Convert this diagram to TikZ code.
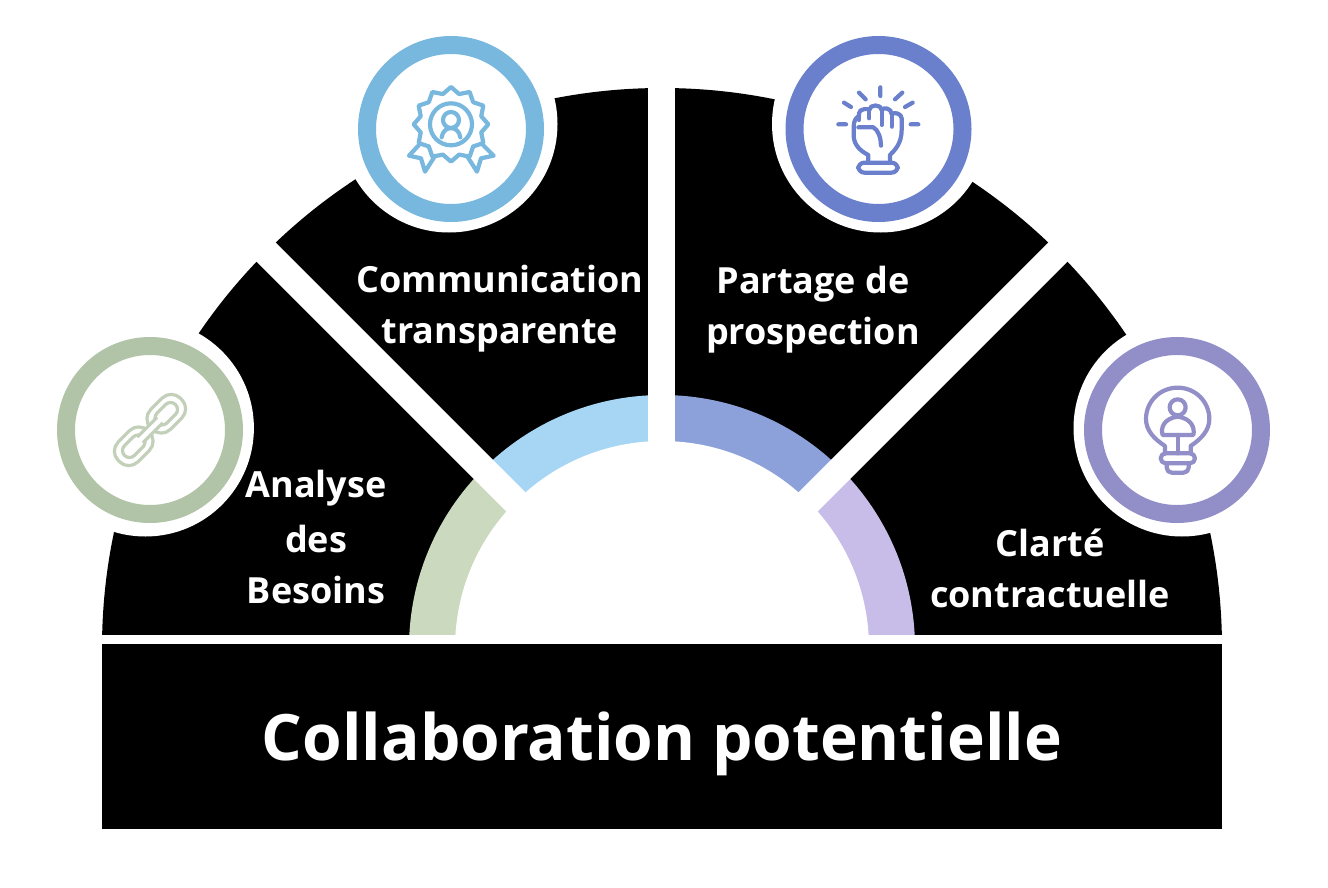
\documentclass[tikz,border=0pt]{standalone}
\usepackage{fontspec}
\setmainfont{Open Sans}
\definecolor{ringA}{HTML}{B2C4A8}\definecolor{iconA}{HTML}{C3D0B9}\definecolor{arcA}{HTML}{CBD9BF}
\definecolor{ringB}{HTML}{78B8DE}\definecolor{arcB}{HTML}{A6D6F3}
\definecolor{ringC}{HTML}{6A80CC}\definecolor{arcC}{HTML}{8CA1DA}
\definecolor{ringD}{HTML}{928FC8}\definecolor{arcD}{HTML}{C8BCE8}
\tikzset{
  halo/.style={circle,fill=white,minimum size=217pt,inner sep=0pt},
  ring/.style={circle,draw=#1,fill=white,line width=18pt,minimum size=168pt,inner sep=0pt},
  gapline/.style={white,line width=27pt},
  label/.style={text=white,font=\fontsize{36}{51}\bfseries\selectfont,align=center,inner sep=0pt},
  title/.style={text=white,font=\fontsize{64}{76}\bfseries\selectfont,inner sep=0pt},
  zoomed/.style={x=0.3333pt,y=-0.3333pt,line width=4.2pt,line cap=round,line join=round}
}
\begin{document}
\begin{tikzpicture}[x=1pt,y=-1pt]
\useasboundingbox (0,0) rectangle (1328,888);
\fill[white] (0,0) rectangle (1328,888);
\coordinate (c) at (662,648);
% black half disc
\begin{scope}
\clip (0,0) rectangle (1328,634);
\fill[black] (c) circle [radius=560pt];
\begin{scope}\clip (c) -- (362,648) -- (362,348) -- cycle; \fill[arcA] (c) circle [radius=253pt];\end{scope}
\begin{scope}\clip (c) -- (362,348) -- (662,348) -- cycle; \fill[arcB] (c) circle [radius=253pt];\end{scope}
\begin{scope}\clip (c) -- (662,348) -- (962,348) -- cycle; \fill[arcC] (c) circle [radius=253pt];\end{scope}
\begin{scope}\clip (c) -- (962,348) -- (962,648) -- cycle; \fill[arcD] (c) circle [radius=253pt];\end{scope}
\fill[white] (c) circle [radius=207pt];
\end{scope}
% gaps
\coordinate (g1) at (62,48);\coordinate (g2a) at (661.5,648);\coordinate (g2) at (661.5,48);\coordinate (g3) at (1262,48);
\draw[gapline] (c) -- (g1);
\draw[gapline] (g2a) -- (g2);
\draw[gapline] (c) -- (g3);
% halos and rings
\node[halo] (h1) at (145.4,428) {};
\node[halo] (h2) at (449,124) {};
\node[halo] (h3) at (880.5,124) {};
\node[halo] (h4) at (1182,428) {};
\node[ring=ringA] (r1) at (150,430) {};
\node[ring=ringB] (r2) at (451,129) {};
\node[ring=ringC] (r3) at (878.5,129) {};
\node[ring=ringD] (r4) at (1177,430) {};
% title bar
\node[fill=black,minimum width=1120pt,minimum height=185pt,inner sep=0pt] (bar) at (662,736.5) {};
\node[title] (t) at (662,744) {Collaboration potentielle};
\node[label] (a) at (316,537) {Analyse\\[4pt]des\\Besoins};
\node[label] (b) at (500,309) {Communication\\transparente};
\node[label] (c3) at (813,310) {Partage de\\prospection};
\node[label] (d) at (1050,568) {Clarté\\contractuelle};
% link icon
\begin{scope}[shift={(150,430)},rotate=45,line width=3.2pt,draw=iconA]
 \draw[rounded corners=13pt] (2,-14) rectangle (44,14);
 \draw[rounded corners=7pt] (10,-7) rectangle (36,7);
 \draw[rounded corners=13pt,fill=white] (-44,-14) rectangle (-2,14);
 \draw[rounded corners=7pt] (-36,-7) rectangle (-10,7);
 \fill[white] (-14,-4) rectangle (14,4);
 \draw (-14,-4) -- (14,-4) (-14,4) -- (14,4);
\end{scope}
% award icon
\begin{scope}[shift={(350,30)},zoomed,draw=ringB]
 \draw plot[samples at={0,15,...,345}] ({303+(103+9*cos(12*\x))*cos(\x)},{283+(103+9*cos(12*\x))*sin(\x)}) -- cycle;
 \draw (303,283) circle [radius=21pt];
 \draw (303,270) circle [radius=8pt];
 \draw (275,322) .. controls (280,285) and (326,285) .. (331,322);
 \draw (207,345) -- (177,377) -- (213,385) -- (225,425) -- (255,378);
 \draw (399,345) -- (431,377) -- (393,385) -- (381,425) -- (351,378);
\end{scope}
% fist icon
\begin{scope}[shift={(775,30)},zoomed,draw=ringC]
 \draw (316,172) -- (316,198) (252,188) -- (272,208) (360,208) -- (382,188)
       (207,218) -- (228,231) (390,231) -- (413,218) (190,283) -- (213,283) (407,283) -- (430,283);
 \draw[rounded corners=6pt] (250,398) rectangle (368,428);
 \draw (280,398) -- (280,375) .. controls (250,360) and (236,340) .. (236,315) -- (236,290)
       .. controls (236,270) and (245,262) .. (252,258) -- (252,250) .. controls (252,235) and (283,235) .. (283,240)
       .. controls (283,222) and (320,222) .. (320,240) .. controls (325,230) and (350,235) .. (350,252)
       .. controls (360,245) and (380,252) .. (380,265) -- (380,300) .. controls (380,340) and (360,360) .. (345,375) -- (345,398);
 \draw (250,292) -- (295,292) .. controls (310,300) and (318,325) .. (318,347);
 \draw (283,240) -- (283,265) (320,240) -- (320,285) (350,252) -- (350,290) (252,258) -- (252,270);
\end{scope}
% bulb icon
\begin{scope}[shift={(1070,320)},zoomed,draw=ringD]
 \draw (285,400) -- (285,378) .. controls (250,355) and (228,330) .. (228,297) .. controls (228,245) and (270,203) .. (323,203)
       .. controls (376,203) and (418,245) .. (418,297) .. controls (418,330) and (396,355) .. (362,378) -- (362,400);
 \draw (323,262) circle [radius=8pt];
 \draw (278,345) -- (370,345) .. controls (375,325) and (365,295) .. (323,290) .. controls (281,295) and (271,325) .. (278,345) -- cycle;
 \draw (323,345) -- (323,400);
 \draw[rounded corners=5pt] (272,400) rectangle (375,430);
 \draw[rounded corners=5pt] (290,430) -- (290,458) -- (356,458) -- (356,430);
\end{scope}
\end{tikzpicture}
\end{document}
